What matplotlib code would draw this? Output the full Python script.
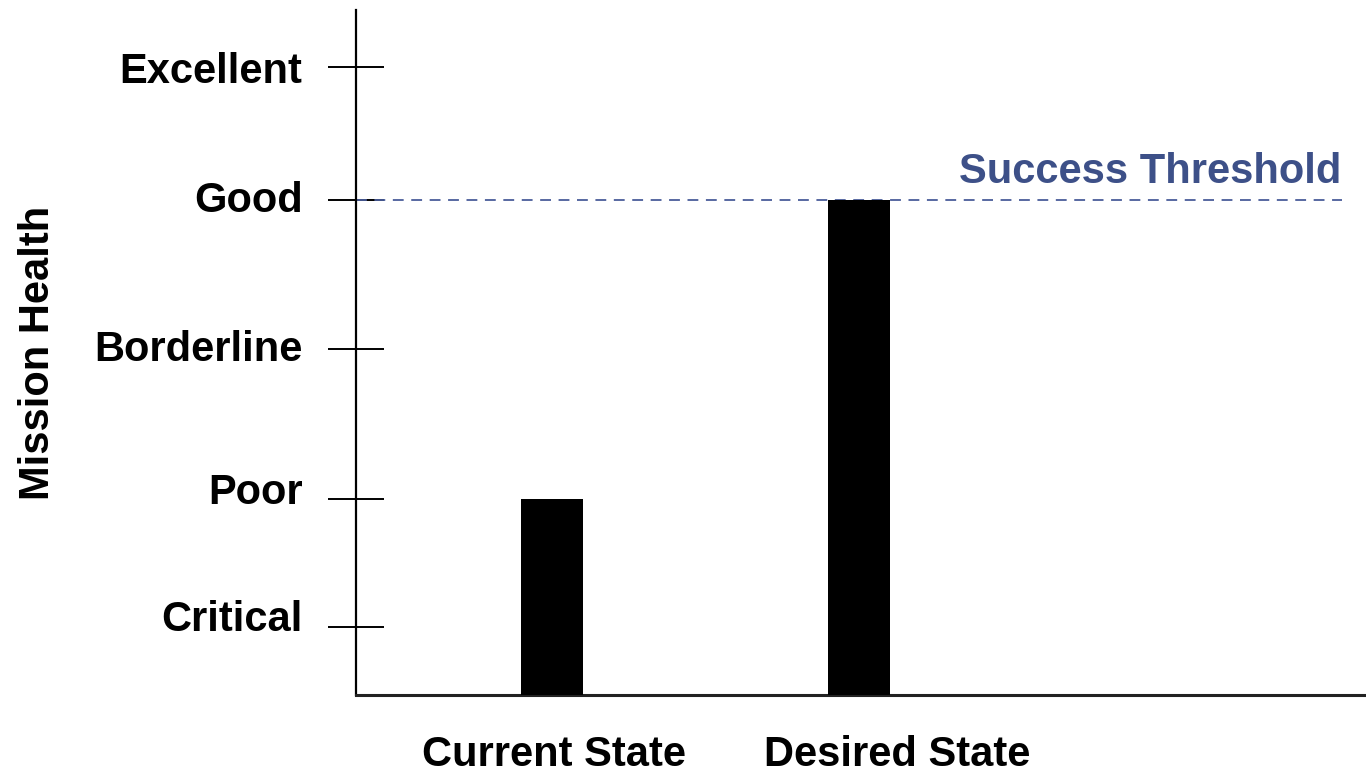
import matplotlib.pyplot as plt
from matplotlib.transforms import ScaledTranslation

plt.rcParams['font.family'] = ['Liberation Sans', 'DejaVu Sans']
plt.rcParams['font.weight'] = 'bold'

# health levels (position on the axis)
level_names = ['Critical', 'Poor', 'Borderline', 'Good', 'Excellent']
level_values = [0.68, 1.96, 3.46, 4.95, 6.28]
# labels sit slightly above their tick marks in the original (pixels)
label_shift_px = [12, 11, 4, 4, 0]

# states
states = ['Current State', 'Desired State']
bar_x = [1.94, 4.98]
state_label_x = [1.96, 5.36]
state_health = [level_values[1], level_values[3]]

threshold = level_values[3]
threshold_color = '#3d5088'

fig = plt.figure(figsize=(13.66, 7.7), dpi=100, facecolor='white')
ax = fig.add_axes([0.2606, 0.0974, 0.7394, 0.8896])

ax.bar(bar_x, state_health, width=0.62, color='black', zorder=3)

ax.hlines(threshold, 0, 9.76, colors='#4a5d9a', linewidth=1.3,
          linestyles=(0, (6, 4.2)), zorder=2)
ax.text(9.76, threshold + 0.08, 'Success Threshold', ha='right', va='bottom',
        fontsize=30, fontweight='bold', color=threshold_color)

ax.set_xlim(0, 10)
ax.set_ylim(0, 6.85)

ax.set_yticks(level_values)
ax.set_yticklabels(level_names, fontsize=30, fontweight='bold')
ax.tick_params(axis='y', direction='inout', length=41, width=1.4, pad=18)
for lab, dy in zip(ax.get_yticklabels(), label_shift_px):
    lab.set_transform(lab.get_transform() +
                      ScaledTranslation(0, dy / 100, fig.dpi_scale_trans))

ax.set_xticks(state_label_x)
ax.set_xticklabels(states, fontsize=30, fontweight='bold')
ax.tick_params(axis='x', length=0, pad=29)

ax.set_ylabel('Mission Health', fontsize=30, fontweight='bold', labelpad=26)

for side in ['top', 'right']:
    ax.spines[side].set_visible(False)
ax.spines['left'].set_linewidth(1.6)
ax.spines['bottom'].set_linewidth(2.2)
ax.spines['bottom'].set_color('#222222')

fig.savefig('out.png', dpi=100, facecolor='white')
